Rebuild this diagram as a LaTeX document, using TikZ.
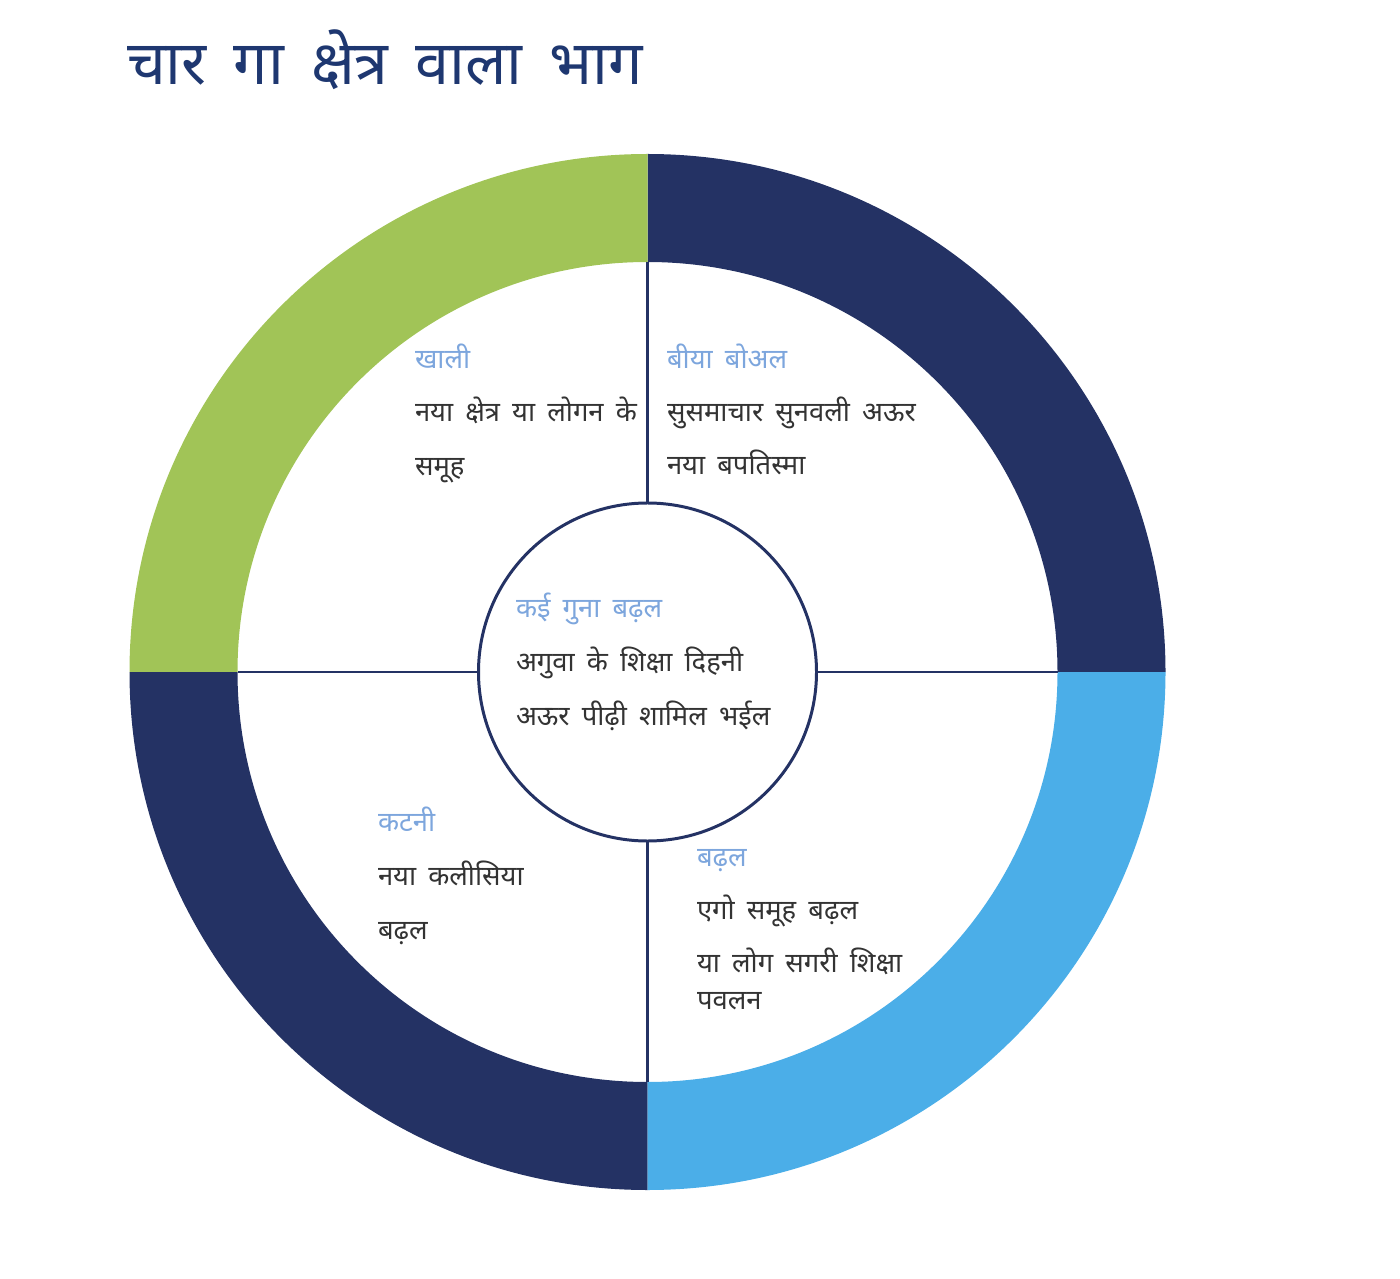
\documentclass[tikz,border=0pt]{standalone}
\usepackage{fontspec}
\setmainfont[Script=Devanagari, WordSpace=1.7]{Noto Sans}
\usetikzlibrary{calc,positioning}

\definecolor{ringgreen}{HTML}{A1C457}
\definecolor{ringnavy}{HTML}{243264}
\definecolor{ringblue}{HTML}{4BAEE8}
\definecolor{labelblue}{HTML}{7DA6DD}
\definecolor{titleblue}{HTML}{1E3770}
\definecolor{bodytext}{HTML}{333333}

\begin{document}
\begin{tikzpicture}[
        every node/.style={inner sep=0pt, outer sep=0pt},
        head/.style={anchor=base west, text=labelblue, font=\fontsize{7.8}{10}\selectfont},
        body/.style={anchor=base west, text=bodytext, font=\fontsize{7.8}{10}\selectfont},
        divider/.style={draw=ringnavy, line width=0.85pt}
    ]
        \useasboundingbox (0,0) rectangle (14,12.78);

        % title
        \node [anchor=base west, text=titleblue, font=\fontsize{17.4}{22}\selectfont] (title) at (1.27,11.93) {चार गा क्षेत्र वाला भाग};

        % the ring in four parts
        \coordinate (c) at (6.475,6.06);
        \foreach \a/\col in {0/ringnavy, 90/ringgreen, 180/ringnavy, 270/ringblue}{
            \fill [\col] ($(c)+(\a:5.18)$) arc[start angle=\a, end angle=\a+90, radius=5.18]
                -- ($(c)+(\a+90:4.10)$) arc[start angle=\a+90, end angle=\a, radius=4.10] -- cycle;
        }

        % inner ends of the dividers
        \coordinate (ringN) at ($(c)+(90:4.10)$);
        \coordinate (ringS) at ($(c)+(270:4.10)$);
        \coordinate (ringW) at ($(c)+(180:4.10)$);
        \coordinate (ringE) at ($(c)+(0:4.10)$);

        % the hub
        \node [circle, draw=ringnavy, line width=0.85pt, fill=white, minimum size=3.38cm] (hub) at (c) {};

        \draw [divider] (hub.north) -- (ringN);
        \draw [divider] (hub.south) -- (ringS);
        \draw [divider] (hub.west) -- (ringW);
        \draw [divider] (hub.east) -- (ringE);

        % top left
        \node [head] (khali) at (4.15,9.09) {खाली};
        \node [body] (khali1) at (4.15,8.56) {नया क्षेत्र या लोगन के};
        \node [body] (khali2) at (4.15,8.02) {समूह};

        % top right
        \node [head] (biya) at (6.67,9.09) {बीया बोअल};
        \node [body] (biya1) at (6.67,8.56) {सुसमाचार सुनवली अऊर};
        \node [body] (biya2) at (6.67,8.03) {नया बपतिस्मा};

        % centre
        \node [head] (kai) at (5.16,6.61) {कई गुना बढ़ल};
        \node [body] (kai1) at (5.16,6.07) {अगुवा के शिक्षा दिहनी};
        \node [body] (kai2) at (5.16,5.53) {अऊर पीढ़ी शामिल भईल};

        % bottom left
        \node [head] (katni) at (3.78,4.47) {कटनी};
        \node [body] (katni1) at (3.78,3.93) {नया कलीसिया};
        \node [body] (katni2) at (3.78,3.39) {बढ़ल};

        % bottom right
        \node [head] (badhal) at (6.97,4.12) {बढ़ल};
        \node [body] (badhal1) at (6.97,3.59) {एगो समूह बढ़ल};
        \node [body] (badhal2) at (6.97,3.06) {या लोग सगरी शिक्षा};
        \node [body] (badhal3) at (6.97,2.69) {पवलन};
    \end{tikzpicture}
\end{document}
